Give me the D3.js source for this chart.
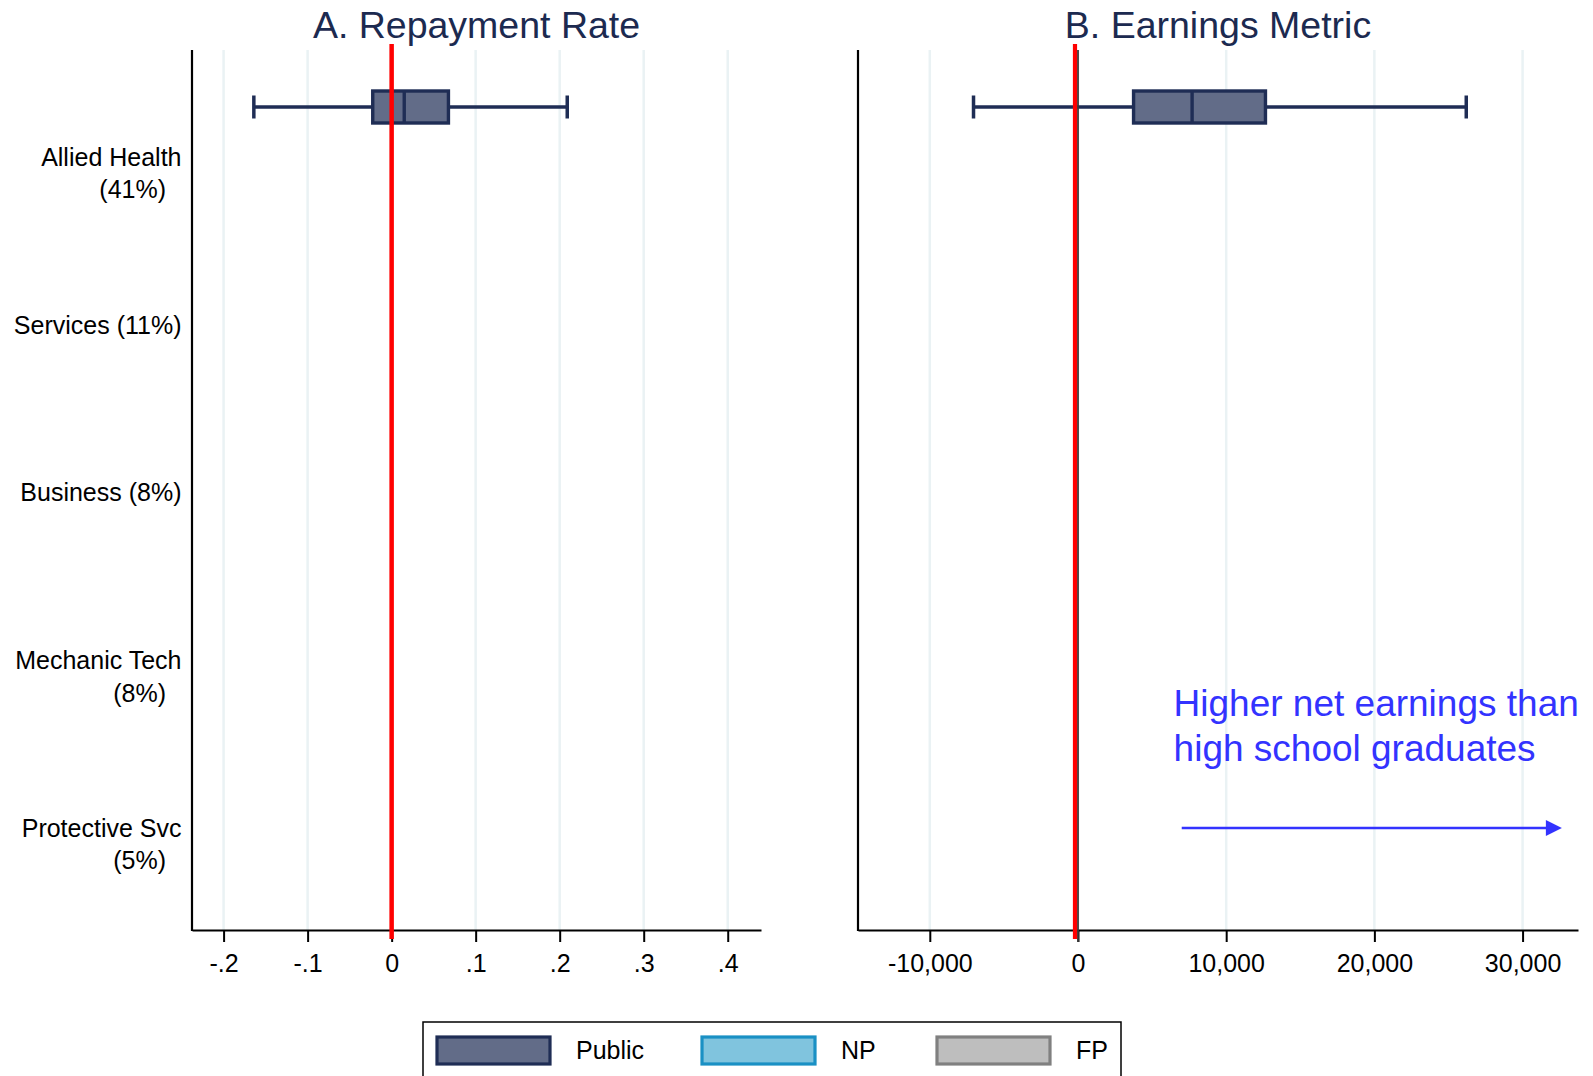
<!DOCTYPE html>
<html><head><meta charset="utf-8">
<script src="https://cdn.jsdelivr.net/npm/d3@7"></script>
<style>
body{margin:0;background:#fff}
text{font-family:"Liberation Sans",Arial,Helvetica,sans-serif}
</style>
</head><body>
<svg id="chart" width="1593" height="1076"></svg>
<script>
// ---------- data ----------
const categories = ["Allied Health", "Services", "Business", "Mechanic Tech", "Protective Svc"];
const categoryLabelLines = [["Allied Health", "(41%)"], ["Services (11%)"], ["Business (8%)"], ["Mechanic Tech", "(8%)"], ["Protective Svc", "(5%)"]];
const seriesNames = ["Public", "NP", "FP"];
const seriesFill = ["#626c88", "#80c4de", "#bebebe"];
const seriesStroke = ["#1f2d55", "#1a90c4", "#808080"];

// box stats: [lower whisker, q1, median, q3, upper whisker]
const repayCategory = ["Allied Health"];
const repaySeries = ["Public"];
const repayStats = [[-0.164, -0.0225, 0.015, 0.0676, 0.209]];

const earnCategory = ["Allied Health"];
const earnSeries = ["Public"];
const earnStats = [[-7050, 3750, 7700, 12650, 26200]];

const repayTicks = [-0.2, -0.1, 0, 0.1, 0.2, 0.3, 0.4];
const repayTickLabels = ["-.2", "-.1", "0", ".1", ".2", ".3", ".4"];
const earnTicks = [-10000, 0, 10000, 20000, 30000];
const earnTickLabels = ["-10,000", "0", "10,000", "20,000", "30,000"];

const annotationLines = ["Higher net earnings than", "high school graduates"];
const arrowFrom = 7000, arrowTo = 32650, annotationX = 6450;

// ---------- layout ----------
const svg = d3.select("#chart");
svg.append("rect").attr("width", 1593).attr("height", 1076).attr("fill", "#fff");

const plotTop = 50, plotBottom = 930;
const yGroup = d3.scalePoint().domain(categories).range([157, 828]);
const ySeries = d3.scalePoint().domain(seriesNames).range([-50, 50]);
const boxH = 32, capH = 23;
const navy = "#1c2a50";

function drawPanel(opt) {
  const x = d3.scaleLinear().domain(opt.domain).range(opt.range);
  const g = svg.append("g");
  // gridlines
  g.selectAll("line.grid").data(opt.ticks).join("line")
    .attr("x1", d => x(d)).attr("x2", d => x(d))
    .attr("y1", plotTop).attr("y2", plotBottom)
    .attr("stroke", "#eaf2f4").attr("stroke-width", 2.5);
  // x axis
  const axis = d3.axisBottom(x).tickValues(opt.ticks)
    .tickFormat((d, i) => opt.labels[i]).tickSize(12).tickPadding(12).tickSizeOuter(0);
  const ax = g.append("g").attr("transform", `translate(0,${plotBottom})`).call(axis);
  ax.select(".domain").attr("stroke", "#000").attr("stroke-width", 2);
  ax.selectAll(".tick line").attr("stroke", "#000").attr("stroke-width", 2);
  ax.selectAll(".tick text").attr("font-size", 25).attr("fill", "#000")
    .attr("font-family", "'Liberation Sans', Arial, sans-serif");
  // left axis line
  g.append("line").attr("x1", opt.range[0]).attr("x2", opt.range[0])
    .attr("y1", plotTop).attr("y2", plotBottom + 1)
    .attr("stroke", "#000").attr("stroke-width", 2.2);
  // title
  g.append("text").attr("x", (opt.range[0] + opt.range[1]) / 2).attr("y", 38)
    .attr("text-anchor", "middle").attr("font-size", 37.5).attr("fill", navy).text(opt.title);
  // boxes
  opt.stats.forEach((s, i) => {
    const cy = yGroup(opt.cats[i]) + ySeries(opt.series[i]);
    const si = seriesNames.indexOf(opt.series[i]);
    const col = seriesStroke[si];
    const bg = g.append("g");
    bg.append("line").attr("x1", x(s[0])).attr("x2", x(s[1])).attr("y1", cy).attr("y2", cy)
      .attr("stroke", col).attr("stroke-width", 3.5);
    bg.append("line").attr("x1", x(s[3])).attr("x2", x(s[4])).attr("y1", cy).attr("y2", cy)
      .attr("stroke", col).attr("stroke-width", 3.5);
    [s[0], s[4]].forEach(v => bg.append("line").attr("x1", x(v)).attr("x2", x(v))
      .attr("y1", cy - capH / 2).attr("y2", cy + capH / 2).attr("stroke", col).attr("stroke-width", 3.5));
    bg.append("rect").attr("x", x(s[1])).attr("width", x(s[3]) - x(s[1]))
      .attr("y", cy - boxH / 2).attr("height", boxH)
      .attr("fill", seriesFill[si]).attr("stroke", col).attr("stroke-width", 3.4);
    bg.append("line").attr("x1", x(s[2])).attr("x2", x(s[2]))
      .attr("y1", cy - boxH / 2).attr("y2", cy + boxH / 2).attr("stroke", col).attr("stroke-width", 3.4);
  });
  return {g, x};
}

const A = drawPanel({domain: [-0.2376, 0.4396], range: [192, 761], ticks: repayTicks, labels: repayTickLabels,
  stats: repayStats, cats: repayCategory, series: repaySeries, title: "A. Repayment Rate"});
const B = drawPanel({domain: [-14845, 33740], range: [858, 1578], ticks: earnTicks, labels: earnTickLabels,
  stats: earnStats, cats: earnCategory, series: earnSeries, title: "B. Earnings Metric"});

// zero reference lines
A.g.append("line").attr("x1", A.x(0)).attr("x2", A.x(0)).attr("y1", 44).attr("y2", 939)
  .attr("stroke", "#ff0000").attr("stroke-width", 4.5);
B.g.append("line").attr("x1", B.x(0)).attr("x2", B.x(0)).attr("y1", 50).attr("y2", 942)
  .attr("stroke", "#3a3a3a").attr("stroke-width", 1.8);
B.g.append("line").attr("x1", B.x(0) - 3).attr("x2", B.x(0) - 3).attr("y1", 44).attr("y2", 939)
  .attr("stroke", "#ff0000").attr("stroke-width", 4.2);

// category labels
categories.forEach((c, i) => {
  const lines = categoryLabelLines[i];
  lines.forEach((t, j) => {
    svg.append("text").attr("x", j === 0 ? 181.5 : 166).attr("y", yGroup(c) + j * 32.5)
      .attr("dy", "0.35em").attr("text-anchor", "end").attr("font-size", 25).attr("fill", "#000").text(t);
  });
});

// annotation
const blue = "#3333ff";
const annY = yGroup("Protective Svc");
annotationLines.forEach((t, j) => {
  B.g.append("text").attr("x", B.x(annotationX)).attr("y", annY - 112 + j * 44.5)
    .attr("font-size", 37).attr("fill", blue).text(t);
});
B.g.append("line").attr("x1", B.x(arrowFrom)).attr("x2", B.x(arrowTo) - 14)
  .attr("y1", annY).attr("y2", annY).attr("stroke", blue).attr("stroke-width", 2.5);
const tip = B.x(arrowTo);
B.g.append("path").attr("d", `M${tip},${annY} L${tip - 16},${annY - 8} L${tip - 16},${annY + 8} Z`).attr("fill", blue);

// legend
const lg = svg.append("g");
lg.append("rect").attr("x", 423).attr("y", 1022).attr("width", 698).attr("height", 70)
  .attr("fill", "#fff").attr("stroke", "#000").attr("stroke-width", 1.5);
const legendX = d3.scalePoint().domain(seriesNames).range([437, 937]);
const legendOffsets = [0, 265, 500];
seriesNames.forEach((s, i) => {
  const x0 = 437 + legendOffsets[i];
  lg.append("rect").attr("x", x0).attr("y", 1037).attr("width", 113).attr("height", 27)
    .attr("fill", seriesFill[i]).attr("stroke", seriesStroke[i]).attr("stroke-width", 3.2);
  lg.append("text").attr("x", x0 + 139).attr("y", 1050.5).attr("dy", "0.35em")
    .attr("font-size", 25).attr("fill", "#000").text(s);
});
</script>
</body></html>
